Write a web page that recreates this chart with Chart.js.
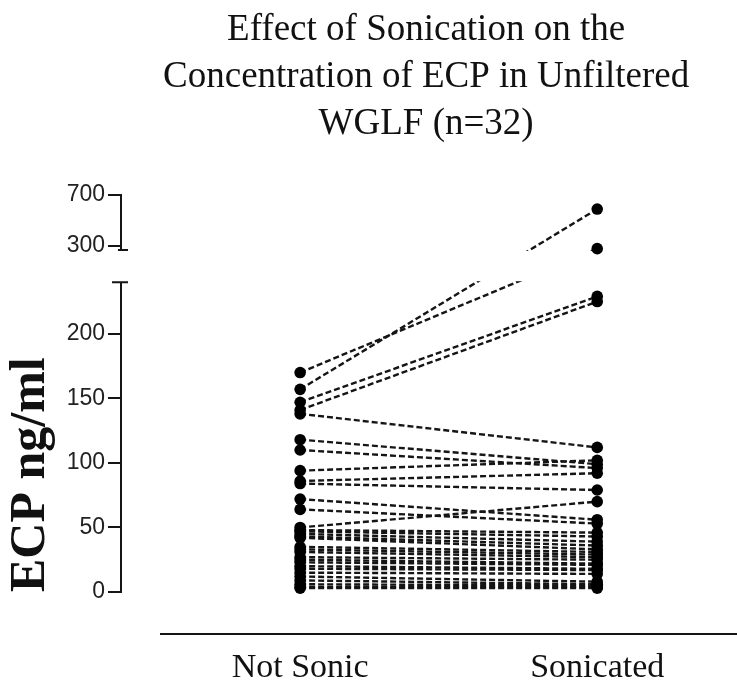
<!DOCTYPE html>
<html>
<head>
<meta charset="utf-8">
<script src="https://cdn.jsdelivr.net/npm/chart.js@4/dist/chart.umd.min.js"></script>
<style>
  html, body { margin: 0; padding: 0; background: #fff; }
  #wrap { width: 737px; height: 691px; }
</style>
</head>
<body>
<div id="wrap"><canvas id="c" width="737" height="691"></canvas></div>
<script>
// ---- data ----
const CATEGORIES = ['Not Sonic', 'Sonicated'];
const NOT_SONIC = [170, 157, 147, 141, 138, 118, 110, 94, 86, 84, 72, 64, 50, 48, 47, 45,
                   43, 42, 35, 33, 31, 27, 25, 23, 20, 18, 15, 12, 9, 6, 4, 3];
const SONICATED = [280, 590, 229, 225, 112, 99, 96, 102, 92, 79, 56, 53, 70, 46, 43, 39,
                   36, 33, 31, 29, 27, 25, 22, 21, 18, 17, 14, 8, 6, 5, 4, 3];
const Y_TICKS = [0, 50, 100, 150, 200, 300, 700];
const TITLE_LINES = ['Effect of Sonication on the', 'Concentration of ECP in Unfiltered', 'WGLF (n=32)'];
const Y_TITLE = 'ECP ng/ml';

// ---- broken axis definition ----
const BRK = { lowMax: 240, hiMin: 270, gap: 25, hiScale: 0.099 };
function toU(v) {
  if (v <= BRK.lowMax) return v;
  if (v < BRK.hiMin) return BRK.lowMax + (v - BRK.lowMax) / (BRK.hiMin - BRK.lowMax) * BRK.gap;
  return BRK.lowMax + BRK.gap + (v - BRK.hiMin) * BRK.hiScale;
}
function fromU(u) {
  if (u <= BRK.lowMax) return u;
  if (u < BRK.lowMax + BRK.gap) return BRK.lowMax + (u - BRK.lowMax) / BRK.gap * (BRK.hiMin - BRK.lowMax);
  return BRK.hiMin + (u - BRK.lowMax - BRK.gap) / BRK.hiScale;
}

class BrokenScale extends Chart.LinearScale {
  getPixelForValue(value) {
    if (value === null || value === undefined || isNaN(value)) return NaN;
    const u0 = toU(this.min), u1 = toU(this.max);
    return this.getPixelForDecimal((toU(value) - u0) / (u1 - u0));
  }
  getValueForPixel(pixel) {
    const u0 = toU(this.min), u1 = toU(this.max);
    return fromU(u0 + this.getDecimalForPixel(pixel) * (u1 - u0));
  }
}
BrokenScale.id = 'broken';
BrokenScale.defaults = {};
Chart.register(BrokenScale);

const INK = '#151515';

const axisPlugin = {
  id: 'brokenAxes',
  afterDatasetDraw(chart, args) {
    if (args.index !== 0) return;
    const { ctx, chartArea } = chart;
    const y = chart.scales.y;
    const top = y.getPixelForValue(BRK.hiMin);
    const bot = y.getPixelForValue(BRK.lowMax);
    ctx.save();
    ctx.fillStyle = '#fff';
    ctx.fillRect(chartArea.left + 2, top + 1, chart.width, bot - top - 2);
    ctx.restore();
  },
  afterDraw(chart) {
    const { ctx, chartArea } = chart;
    const y = chart.scales.y;
    const x0 = chartArea.left;
    ctx.save();
    ctx.strokeStyle = INK;
    ctx.lineWidth = 2;
    ctx.lineCap = 'butt';
    // lower segment
    const pZero = y.getPixelForValue(0);
    const pLowTop = y.getPixelForValue(BRK.lowMax);
    ctx.beginPath();
    ctx.moveTo(x0, pZero + 1);
    ctx.lineTo(x0, pLowTop);
    ctx.moveTo(x0 - 9, pLowTop);
    ctx.lineTo(x0 + 7, pLowTop);
    // upper segment
    const pHiBot = y.getPixelForValue(BRK.hiMin);
    const pTop = y.getPixelForValue(y.max);
    ctx.moveTo(x0, pTop - 1);
    ctx.lineTo(x0, pHiBot);
    ctx.moveTo(x0 - 3, pHiBot);
    ctx.lineTo(x0 + 7, pHiBot);
    ctx.stroke();
    // x axis line
    const yLine = chartArea.bottom + 42;
    ctx.beginPath();
    ctx.moveTo(160, yLine);
    ctx.lineTo(chart.width, yLine);
    ctx.stroke();
    ctx.restore();
  }
};

const lineSets = NOT_SONIC.map((v, i) => ({
  data: [{ x: 0, y: v }, { x: 1, y: SONICATED[i] }],
  showLine: true,
  pointRadius: 0,
  pointHoverRadius: 0,
  borderColor: INK,
  borderWidth: 2.4,
  borderDash: [6, 3],
  order: 2,
  clip: false
}));
const pointSets = [NOT_SONIC, SONICATED].map((arr, k) => ({
  data: arr.map(v => ({ x: k, y: v })),
  showLine: false,
  pointRadius: 5.8,
  pointBackgroundColor: '#000',
  pointBorderColor: '#000',
  pointBorderWidth: 0,
  order: 1,
  clip: false
}));

new Chart(document.getElementById('c'), {
  type: 'scatter',
  data: { datasets: [...lineSets, ...pointSets] },
  plugins: [axisPlugin],
  options: {
    responsive: false,
    animation: false,
    events: [],
    layout: { padding: 0 },
    plugins: {
      legend: { display: false },
      tooltip: { enabled: false },
      title: {
        display: true,
        fullSize: false,
        text: TITLE_LINES,
        color: '#111',
        font: { family: "'Liberation Serif', 'Times New Roman', serif", size: 37, weight: 'normal', lineHeight: 1.27 },
        padding: { top: 7, bottom: 47 }
      }
    },
    scales: {
      x: {
        type: 'linear',
        min: -0.603,
        max: 1.451,
        grid: { display: false, drawTicks: false },
        border: { display: false },
        afterBuildTicks: (s) => { s.ticks = CATEGORIES.map((c, i) => ({ value: i })); },
        afterFit: (s) => { s.height = 99; },
        ticks: {
          autoSkip: false,
          maxRotation: 0,
          padding: 56,
          color: '#111',
          font: { family: "'Liberation Serif', 'Times New Roman', serif", size: 34 },
          callback: (v) => CATEGORIES[v]
        }
      },
      y: {
        type: 'broken',
        min: 0,
        max: 700,
        afterBuildTicks: (s) => { s.ticks = Y_TICKS.map(v => ({ value: v })); },
        afterFit: (s) => { s.width = 121; },
        grid: { display: true, drawOnChartArea: false, drawTicks: true, tickLength: 13, color: INK, lineWidth: 2 },
        border: { display: false },
        ticks: {
          autoSkip: false,
          padding: 3,
          color: '#222',
          font: { family: "'Liberation Sans', Arial, sans-serif", size: 23 },
          callback: (v) => String(v)
        },
        title: {
          display: true,
          text: Y_TITLE,
          align: 'start',
          color: '#111',
          padding: { top: 1 },
          font: { family: "'Liberation Serif', 'Times New Roman', serif", size: 50, weight: 'bold', lineHeight: 1.2 }
        }
      }
    }
  }
});
</script>
</body>
</html>
